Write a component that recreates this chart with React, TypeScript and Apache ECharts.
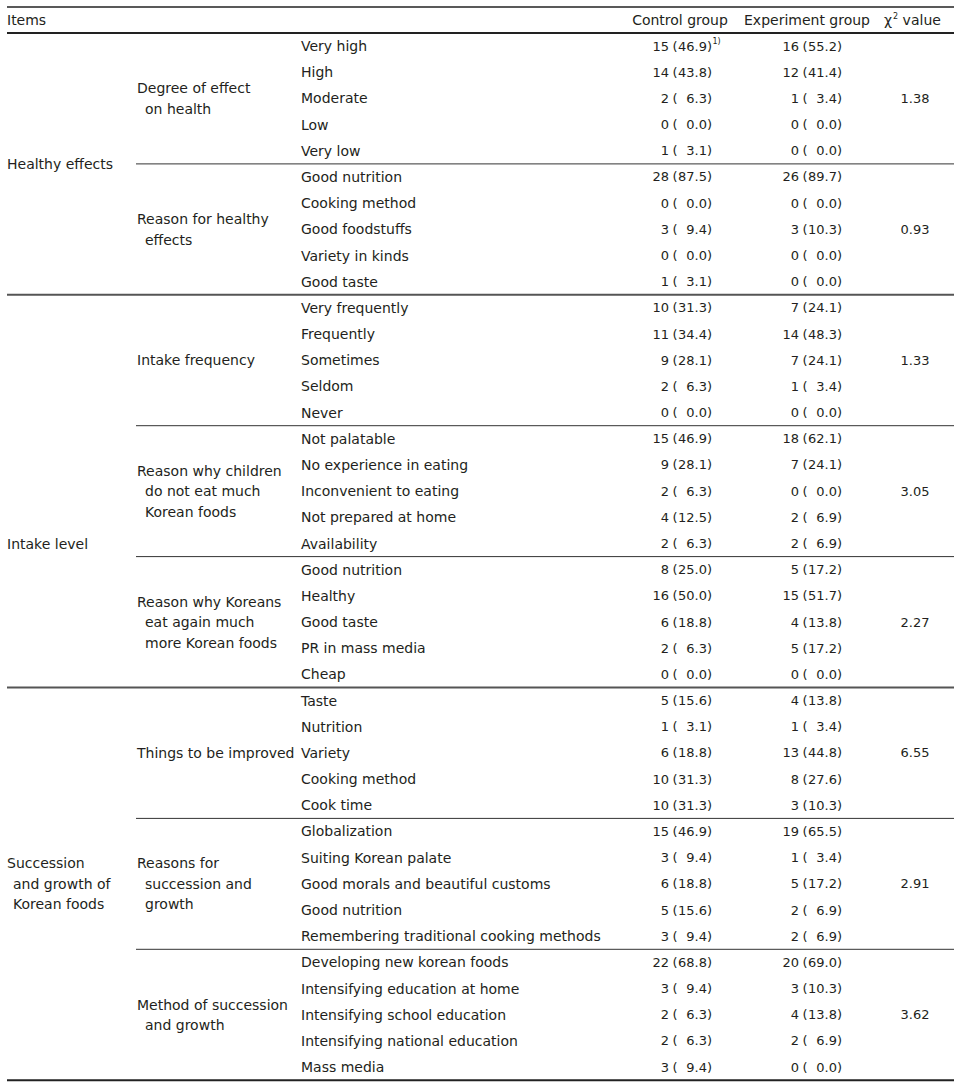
import React, { useEffect, useRef } from "react";
import * as echarts from "echarts";

// ---------- data ----------
const headers = ["Items", "Control group", "Experiment group", "value"];

const groupLabels = [
  ["Healthy effects"],
  ["Intake level"],
  ["Succession", "and growth of", "Korean foods"],
];
const groupLabelRows = [4.5, 19, 32];

const subgroupLabels = [
  ["Degree of effect", "on health"],
  ["Reason for healthy", "effects"],
  ["Intake frequency"],
  ["Reason why children", "do not eat much", "Korean foods"],
  ["Reason why Koreans", "eat again much", "more Korean foods"],
  ["Things to be improved"],
  ["Reasons for", "succession and", "growth"],
  ["Method of succession", "and growth"],
];
const subgroupGroup = [0, 0, 1, 1, 1, 2, 2, 2];
const chiValues = ["1.38", "0.93", "1.33", "3.05", "2.27", "6.55", "2.91", "3.62"];

const items = [
  "Very high", "High", "Moderate", "Low", "Very low",
  "Good nutrition", "Cooking method", "Good foodstuffs", "Variety in kinds", "Good taste",
  "Very frequently", "Frequently", "Sometimes", "Seldom", "Never",
  "Not palatable", "No experience in eating", "Inconvenient to eating", "Not prepared at home", "Availability",
  "Good nutrition", "Healthy", "Good taste", "PR in mass media", "Cheap",
  "Taste", "Nutrition", "Variety", "Cooking method", "Cook time",
  "Globalization", "Suiting Korean palate", "Good morals and beautiful customs", "Good nutrition", "Remembering traditional cooking methods",
  "Developing new korean foods", "Intensifying education at home", "Intensifying school education", "Intensifying national education", "Mass media",
];
const controlN = [15, 14, 2, 0, 1, 28, 0, 3, 0, 1, 10, 11, 9, 2, 0, 15, 9, 2, 4, 2, 8, 16, 6, 2, 0, 5, 1, 6, 10, 10, 15, 3, 6, 5, 3, 22, 3, 2, 2, 3];
const controlPct = [46.9, 43.8, 6.3, 0.0, 3.1, 87.5, 0.0, 9.4, 0.0, 3.1, 31.3, 34.4, 28.1, 6.3, 0.0, 46.9, 28.1, 6.3, 12.5, 6.3, 25.0, 50.0, 18.8, 6.3, 0.0, 15.6, 3.1, 18.8, 31.3, 31.3, 46.9, 9.4, 18.8, 15.6, 9.4, 68.8, 9.4, 6.3, 6.3, 9.4];
const experimentN = [16, 12, 1, 0, 0, 26, 0, 3, 0, 0, 7, 14, 7, 1, 0, 18, 7, 0, 2, 2, 5, 15, 4, 5, 0, 4, 1, 13, 8, 3, 19, 1, 5, 2, 2, 20, 3, 4, 2, 0];
const experimentPct = [55.2, 41.4, 3.4, 0.0, 0.0, 89.7, 0.0, 10.3, 0.0, 0.0, 24.1, 48.3, 24.1, 3.4, 0.0, 62.1, 24.1, 0.0, 6.9, 6.9, 17.2, 51.7, 13.8, 17.2, 0.0, 13.8, 3.4, 44.8, 27.6, 10.3, 65.5, 3.4, 17.2, 6.9, 6.9, 69.0, 10.3, 13.8, 6.9, 0.0];
const footnoteMark = "1)";

// ---------- layout ----------
const W = 958;
const H = 1086;
const FONT = '14px "DejaVu Sans"';
const NUMFONT = '13px "DejaVu Sans"';
const SMALL = '8px "DejaVu Sans"';
const TXT = "#231f20";
const X_GROUP = 7;
const X_SUB = 137;
const X_ITEM = 301;
const X_C_N = 669;
const X_C_P = 672.5;
const X_C_END = 712;
const X_E_N = 799;
const X_E_P = 802.5;
const X_E_END = 842;
const X_CHI = 915;
const LINE_L = 7;
const LINE_R = 954;
const SUB_L = 136;
const INDENT = 8;
const LH = 20.5;

function txt(x: number, y: number, text: string, align = "left", font = FONT) {
  return {
    type: "text",
    x,
    y,
    silent: true,
    style: {
      text,
      fill: TXT,
      font,
      align,
      verticalAlign: "middle",
      textAlign: align,
      textVerticalAlign: "middle",
    },
  };
}

export default function App() {
  const ref = useRef<HTMLDivElement>(null);

  useEffect(() => {
    if (!ref.current) return;
    const chart = echarts.init(ref.current, null, { renderer: "svg" });

    const rowRender = (params: any, api: any) => {
      const i = params.dataIndex;
      const y = api.coord([0, i])[1];
      const cx = (v: number) => api.coord([v, i])[0];
      const children: any[] = [
        txt(cx(X_ITEM), y, items[i]),
        txt(cx(X_C_N), y, String(controlN[i]), "right", NUMFONT),
        txt(cx(X_C_P), y, "(", "left", NUMFONT),
        txt(cx(X_C_END), y, controlPct[i].toFixed(1) + ")", "right", NUMFONT),
        txt(cx(X_E_N), y, String(experimentN[i]), "right", NUMFONT),
        txt(cx(X_E_P), y, "(", "left", NUMFONT),
        txt(cx(X_E_END), y, experimentPct[i].toFixed(1) + ")", "right", NUMFONT),
      ];
      if (i === 0) children.push(txt(cx(X_C_END) + 0.5, y - 5, footnoteMark, "left", SMALL));
      return { type: "group", children };
    };

    const blockRender = (params: any, api: any) => {
      const b = params.dataIndex;
      const mid = b * 5 + 2;
      const y = api.coord([0, mid])[1];
      const band = api.size([0, 1])[1];
      const lines = subgroupLabels[b];
      const n = lines.length;
      const children: any[] = lines.map((t, k) =>
        txt(X_SUB + (k > 0 ? INDENT : 0), y + (k - (n - 1) / 2) * LH, t)
      );
      children.push(txt(X_CHI, y, chiValues[b], "center", NUMFONT));
      const yb = api.coord([0, b * 5 + 4])[1] + band / 2;
      const last = b === subgroupLabels.length - 1;
      const groupEnd = last || subgroupGroup[b + 1] !== subgroupGroup[b];
      children.push({
        type: "line",
        silent: true,
        shape: { x1: groupEnd ? LINE_L : SUB_L, y1: yb, x2: LINE_R, y2: yb },
        style: { stroke: last ? "#222" : groupEnd ? "#555" : "#333", lineWidth: groupEnd ? 2 : 1 },
      });
      return { type: "group", children };
    };

    const groupRender = (params: any, api: any) => {
      const g = params.dataIndex;
      const r = groupLabelRows[g];
      const base = Math.floor(r);
      const band = api.size([0, 1])[1];
      const y = api.coord([0, base])[1] + (r - base) * band;
      const lines = groupLabels[g];
      const n = lines.length;
      return {
        type: "group",
        children: lines.map((t, k) =>
          txt(X_GROUP + (k > 0 ? 6 : 0), y + (k - (n - 1) / 2) * LH, t)
        ),
      };
    };

    chart.setOption({
      animation: false,
      grid: { left: 0, right: 0, top: 33, bottom: 5.8 },
      xAxis: { type: "value", min: 0, max: W, show: false },
      yAxis: {
        type: "category",
        data: items.map((_, i) => String(i)),
        inverse: true,
        show: false,
      },
      graphic: [
        { type: "line", silent: true, shape: { x1: LINE_L, y1: 7, x2: LINE_R, y2: 7 }, style: { stroke: "#222", lineWidth: 1.5 } },
        { type: "line", silent: true, shape: { x1: LINE_L, y1: 33, x2: LINE_R, y2: 33 }, style: { stroke: "#222", lineWidth: 2 } },
        {
          type: "text",
          x: X_GROUP,
          y: 20,
          style: { text: headers[0], fill: TXT, font: FONT, textAlign: "left", textVerticalAlign: "middle" },
        },
        {
          type: "text",
          x: 680,
          y: 20,
          style: { text: headers[1], fill: TXT, font: FONT, textAlign: "center", textVerticalAlign: "middle" },
        },
        {
          type: "text",
          x: 807,
          y: 20,
          style: { text: headers[2], fill: TXT, font: FONT, textAlign: "center", textVerticalAlign: "middle" },
        },
        {
          type: "text",
          x: 884,
          y: 20,
          style: {
            text: "{chi|χ}{sup|2}{v| " + headers[3] + "}",
            fill: TXT,
            font: FONT,
            textAlign: "left",
            textVerticalAlign: "middle",
            rich: {
              chi: { font: FONT, fill: TXT },
              sup: { font: SMALL, fill: TXT, padding: [0, 0, 8, 1] },
              v: { font: FONT, fill: TXT },
            },
          },
        },
      ],
      series: [
        {
          type: "custom",
          silent: true,
          clip: false,
          renderItem: rowRender,
          encode: { x: 0, y: 1 },
          data: items.map((_, i) => [0, i]),
        },
        {
          type: "custom",
          silent: true,
          clip: false,
          renderItem: blockRender,
          encode: { x: 0, y: 1 },
          data: subgroupLabels.map((_, b) => [0, b * 5 + 2]),
        },
        {
          type: "custom",
          silent: true,
          clip: false,
          renderItem: groupRender,
          encode: { x: 0, y: 1 },
          data: groupLabelRows.map((r) => [0, Math.floor(r)]),
        },
      ],
    });

    return () => chart.dispose();
  }, []);

  return (
    <div
      ref={ref}
      style={{ position: "absolute", left: 0, top: 0, width: W, height: H, background: "#fff" }}
    />
  );
}
